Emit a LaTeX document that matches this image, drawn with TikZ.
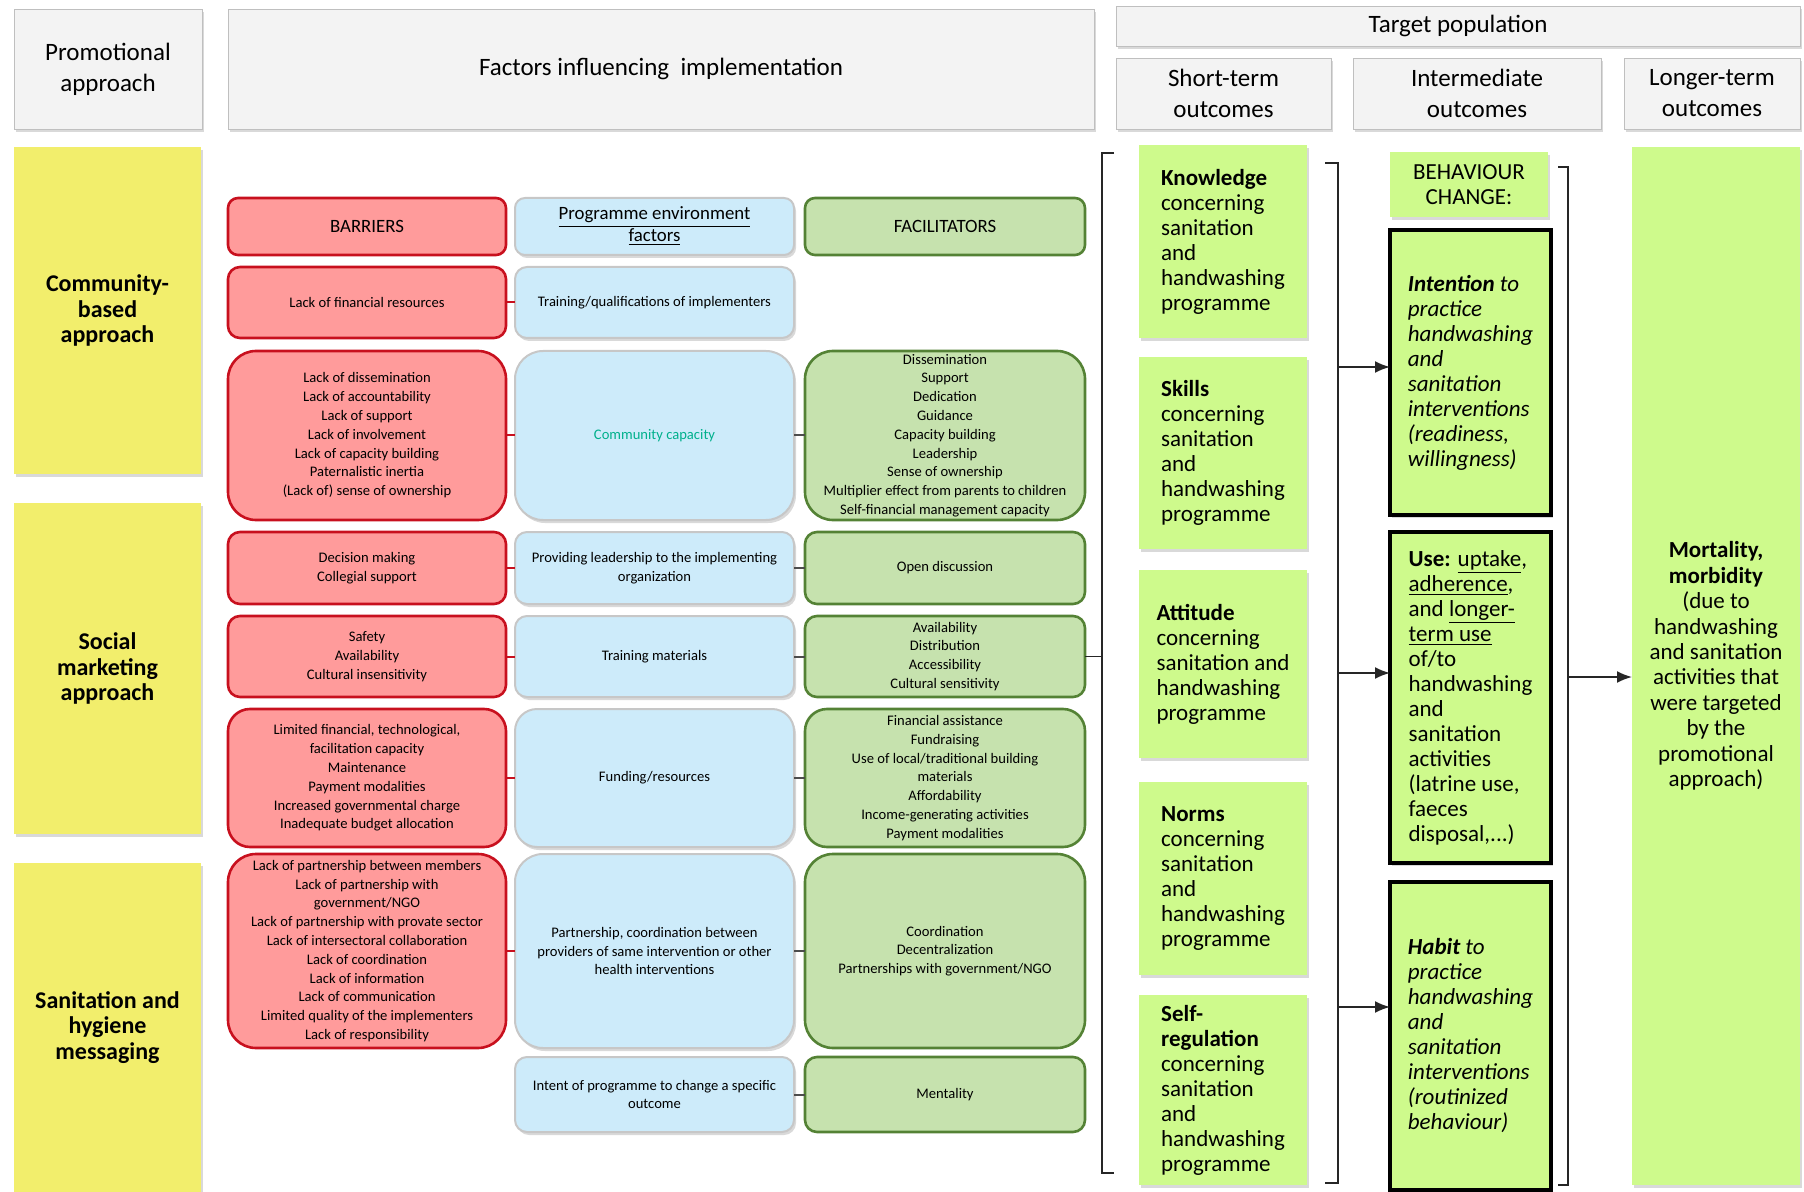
\documentclass[tikz,border=0pt]{standalone}
\usepackage{fontspec}
\setmainfont{Carlito}
\usetikzlibrary{arrows.meta}
\usetikzlibrary{shadows}

\definecolor{headGray}{RGB}{243,243,243}
\definecolor{approachYellow}{RGB}{242,238,108}
\definecolor{barrierFill}{RGB}{255,155,155}
\definecolor{barrierLine}{RGB}{200,16,30}
\definecolor{envFill}{RGB}{205,235,250}
\definecolor{facilFill}{RGB}{198,226,174}
\definecolor{facilLine}{RGB}{84,130,53}
\definecolor{outcomeGreen}{RGB}{206,250,140}
\definecolor{capacityTeal}{RGB}{0,176,140}

\begin{document}
\begin{tikzpicture}[x = 0.5pt, y = -0.5pt]
	\tikzstyle{softShadow} = [drop shadow = {shadow xshift = 1pt, shadow yshift = -1.5pt, opacity = 0.3}]
	\tikzstyle{boxStyle} = [shape = rectangle, inner sep = 0pt, outer sep = 0pt, align = center]
	\tikzstyle{smallText} = [font = \fontsize{7.3}{9.4}\selectfont]
	\tikzstyle{titleText} = [font = \fontsize{9.4}{11}\selectfont]
	\tikzstyle{headStyle} = [boxStyle, softShadow, fill = headGray, draw = black!25, font = \fontsize{12.5}{15.5}\selectfont]
	\tikzstyle{approachStyle} = [boxStyle, softShadow, fill = approachYellow, minimum width = 93.5pt, font = \fontsize{12}{12.7}\selectfont\bfseries]
	\tikzstyle{barrierStyle} = [boxStyle, smallText, rounded corners = 6pt, fill = barrierFill, draw = barrierLine, line width = 1.3pt, minimum width = 139pt]
	\tikzstyle{envStyle} = [boxStyle, smallText, softShadow, rounded corners = 6pt, fill = envFill, draw = black!22, line width = 1pt, minimum width = 139.5pt]
	\tikzstyle{facilStyle} = [boxStyle, smallText, rounded corners = 6pt, fill = facilFill, draw = facilLine, line width = 1.3pt, minimum width = 140pt]
	\tikzstyle{midBox} = [rounded corners = 11pt]
	\tikzstyle{tallBox} = [rounded corners = 14pt]
	\tikzstyle{outcomeStyle} = [boxStyle, softShadow, fill = outcomeGreen, minimum width = 84pt, font = \fontsize{11.5}{12.5}\selectfont]
	\tikzstyle{behaviourStyle} = [outcomeStyle, draw = black, line width = 1.6pt, minimum width = 80.5pt]
	\tikzstyle{tickStyle} = [line width = 1pt, draw = black!70]
	\tikzstyle{bracketStyle} = [line width = 0.9pt, draw = black!85]
	\tikzstyle{arrowStyle} = [bracketStyle, -{Latex[length = 7.5pt, width = 6pt]}]
	\useasboundingbox (0,0) rectangle (1804,1192);
	\node[headStyle, minimum width = 94pt, minimum height = 60pt] (hPromo) at (108,69) {Promotional\\approach};
	\node[headStyle, minimum width = 433pt, minimum height = 60pt] (hFactors) at (661,69) {Factors influencing\ \ implementation};
	\node[headStyle, minimum width = 342pt, minimum height = 20pt] (hTarget) at (1458,26) {Target population};
	\node[headStyle, minimum width = 107.5pt, minimum height = 35.5pt] (hShort) at (1223.5,93.5) {Short-term\\outcomes};
	\node[headStyle, minimum width = 124pt, minimum height = 35.5pt] (hInter) at (1477,93.5) {Intermediate\\outcomes};
	\node[headStyle, minimum width = 88pt, minimum height = 35.5pt] (hLonger) at (1712,93.5) {Longer-term\\outcomes};
	\node[approachStyle, minimum height = 163.5pt] (aCommunity) at (107.5,310.5) {Community-\\based\\approach};
	\node[approachStyle, minimum height = 165.5pt] (aSocial) at (107.5,668.5) {Social\\marketing\\approach};
	\node[approachStyle, minimum height = 164.5pt] (aMessaging) at (107.5,1027.5) {Sanitation and\\hygiene\\messaging};
	\node[barrierStyle, titleText, rounded corners = 5pt, minimum height = 28.5pt] (b0) at (367,226.5) {BARRIERS};
	\node[barrierStyle, minimum height = 35.5pt] (b1) at (367,302.5) {Lack of financial resources};
	\node[barrierStyle, tallBox, minimum height = 84.5pt] (b2) at (367,435.5) {Lack of dissemination\\Lack of accountability\\Lack of support\\Lack of involvement\\Lack of capacity building\\Paternalistic inertia\\(Lack of) sense of ownership};
	\node[barrierStyle, minimum height = 36pt] (b3) at (367,568) {Decision making\\Collegial support};
	\node[barrierStyle, minimum height = 40.5pt] (b4) at (367,656.5) {Safety\\Availability\\Cultural insensitivity};
	\node[barrierStyle, midBox, minimum height = 69pt] (b5) at (367,778) {Limited financial, technological,\\facilitation capacity\\Maintenance\\Payment modalities\\Increased governmental charge\\Inadequate budget allocation};
	\node[barrierStyle, tallBox, minimum height = 97pt] (b6) at (367,951) {Lack of partnership between members\\Lack of partnership with\\government/NGO\\Lack of partnership with provate sector\\Lack of intersectoral collaboration\\Lack of coordination\\Lack of information\\Lack of communication\\Limited quality of the implementers\\Lack of responsibility};
	\node[envStyle, titleText, rounded corners = 5pt, minimum height = 28.5pt] (e0) at (654.5,226.5) {\underline{Programme environment}\\\underline{factors}};
	\node[envStyle, minimum height = 35.5pt] (e1) at (654.5,302.5) {Training/qualifications of implementers};
	\node[envStyle, tallBox, text = capacityTeal, minimum height = 84.5pt] (e2) at (654.5,435.5) {Community capacity};
	\node[envStyle, minimum height = 36pt] (e3) at (654.5,568) {Providing leadership to the implementing\\organization};
	\node[envStyle, minimum height = 40.5pt] (e4) at (654.5,656.5) {Training materials};
	\node[envStyle, midBox, minimum height = 69pt] (e5) at (654.5,778) {Funding/resources};
	\node[envStyle, tallBox, minimum height = 97pt] (e6) at (654.5,951) {Partnership, coordination between\\providers of same intervention or other\\health interventions};
	\node[envStyle, minimum height = 37.5pt] (e7) at (654.5,1094.5) {Intent of programme to change a specific\\outcome};
	\node[facilStyle, titleText, rounded corners = 5pt, minimum height = 28.5pt] (f0) at (945,226.5) {FACILITATORS};
	\node[facilStyle, tallBox, minimum height = 84.5pt] (f2) at (945,435.5) {Dissemination\\Support\\Dedication\\Guidance\\Capacity building\\Leadership\\Sense of ownership\\Multiplier effect from parents to children\\Self-financial management capacity};
	\node[facilStyle, minimum height = 36pt] (f3) at (945,568) {Open discussion};
	\node[facilStyle, minimum height = 40.5pt] (f4) at (945,656.5) {Availability\\Distribution\\Accessibility\\Cultural sensitivity};
	\node[facilStyle, midBox, minimum height = 69pt] (f5) at (945,778) {Financial assistance\\Fundraising\\Use of local/traditional building\\materials\\Affordability\\Income-generating activities\\Payment modalities};
	\node[facilStyle, tallBox, minimum height = 97pt] (f6) at (945,951) {Coordination\\Decentralization\\Partnerships with government/NGO};
	\node[facilStyle, minimum height = 37.5pt] (f7) at (945,1094.5) {Mentality};
	\foreach \r in {1,...,6}
		\draw[tickStyle, draw = barrierLine] (b\r.east) -- (e\r.west);
	\foreach \r in {2,...,7}
		\draw[tickStyle] (e\r.east) -- (f\r.west);
	\node[outcomeStyle, align = left, minimum height = 96.5pt] (oKnowledge) at (1223,241.5) {\textbf{Knowledge}\\concerning\\sanitation\\and\\handwashing\\programme};
	\node[outcomeStyle, align = left, minimum height = 96pt] (oSkills) at (1223,453) {\textbf{Skills}\\concerning\\sanitation\\and\\handwashing\\programme};
	\node[outcomeStyle, align = left, minimum height = 94pt] (oAttitude) at (1223,664) {\textbf{Attitude}\\concerning\\sanitation and\\handwashing\\programme};
	\node[outcomeStyle, align = left, minimum height = 96.5pt] (oNorms) at (1223,878.5) {\textbf{Norms}\\concerning\\sanitation\\and\\handwashing\\programme};
	\node[outcomeStyle, align = left, minimum height = 95pt] (oSelfreg) at (1223,1090) {\textbf{Self-}\\\textbf{regulation}\\concerning\\sanitation\\and\\handwashing\\programme};
	\node[outcomeStyle, minimum width = 79pt, minimum height = 32.5pt] (iBehaviour) at (1469,184.5) {BEHAVIOUR\\CHANGE:};
	\node[behaviourStyle, align = left, font = \fontsize{11.5}{12.5}\selectfont\itshape, minimum height = 142.5pt] (iIntention) at (1470.5,372.5) {\textbf{Intention} to\\practice\\handwashing\\and\\sanitation\\interventions\\(readiness,\\willingness)};
	\node[behaviourStyle, align = left, minimum height = 165.5pt] (iUse) at (1470.5,697.5) {\textbf{Use:} \underline{uptake},\\\underline{adherence},\\and \underline{longer-}\\\underline{term use}\\of/to\\handwashing\\and\\sanitation\\activities\\(latrine use,\\faeces\\disposal,...)};
	\node[behaviourStyle, align = left, font = \fontsize{11.5}{12.5}\selectfont\itshape, minimum height = 154pt] (iHabit) at (1470.5,1036) {\textbf{Habit} to\\practice\\handwashing\\and\\sanitation\\interventions\\(routinized\\behaviour)};
	\node[outcomeStyle, font = \fontsize{11.5}{12.7}\selectfont, minimum height = 519pt] (lMortality) at (1716,666) {\textbf{Mortality,}\\\textbf{morbidity}\\(due to\\handwashing\\and sanitation\\activities that\\were targeted\\by the\\promotional\\approach)};
	\coordinate (k1a) at (1114,153);
	\coordinate (k1b) at (1102,153);
	\coordinate (k1c) at (1102,1173);
	\coordinate (k1d) at (1114,1173);
	\coordinate (k2a) at (1325,163);
	\coordinate (k2b) at (1338,163);
	\coordinate (k2c) at (1338,1183);
	\coordinate (k2d) at (1325,1183);
	\coordinate (k3a) at (1558,167);
	\coordinate (k3b) at (1568,167);
	\coordinate (k3c) at (1568,1185);
	\coordinate (k3d) at (1558,1185);
	\draw[bracketStyle] (k1a) -- (k1b) -- (k1c) -- (k1d);
	\draw[bracketStyle] (k2a) -- (k2b) -- (k2c) -- (k2d);
	\draw[bracketStyle] (k3a) -- (k3b) -- (k3c) -- (k3d);
	\draw[bracketStyle] (f4.east) -- (f4.east -| k1b);
	\coordinate (s1) at (1338,367);
	\coordinate (s2) at (1338,673);
	\coordinate (s3) at (1338,1007);
	\coordinate (s4) at (1568,677);
	\draw[arrowStyle] (s1) -- (s1 -| iIntention.west);
	\draw[arrowStyle] (s2) -- (s2 -| iUse.west);
	\draw[arrowStyle] (s3) -- (s3 -| iHabit.west);
	\draw[arrowStyle] (s4) -- (s4 -| lMortality.west);
\end{tikzpicture}
\end{document}
